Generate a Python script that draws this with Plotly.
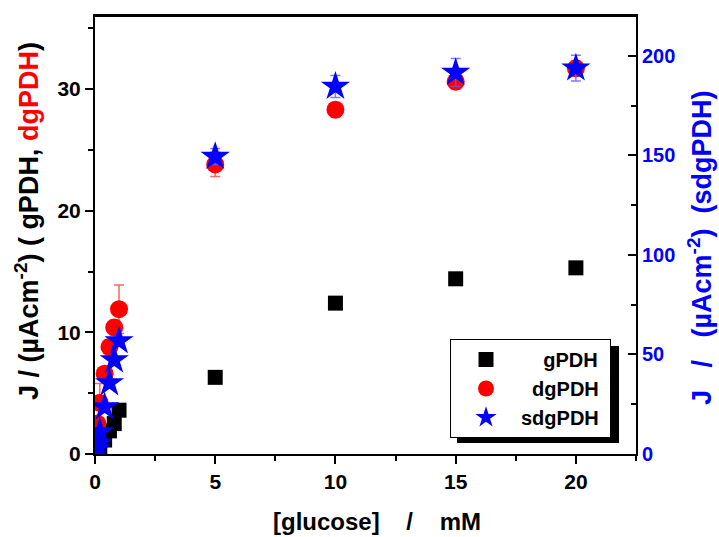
import plotly.graph_objects as go

# ---- data ----
x_g = [0.1, 0.2, 0.4, 0.6, 0.8, 1.0, 5, 10, 15, 20]
j_g = [0.25, 0.5, 1.15, 1.9, 2.5, 3.6, 6.3, 12.4, 14.4, 15.3]

x_dg = [0.1, 0.2, 0.4, 0.6, 0.8, 1.0, 5, 10, 15, 20]
j_dg = [2.5, 4.2, 6.6, 8.8, 10.4, 11.9, 23.8, 28.3, 30.6, 31.7]
e_dg = [0.4, 1.6, 0.5, 0.6, 0.6, 2.0, 1.0, 0.6, 0.6, 0.6]

x_sdg = [0.05, 0.1, 0.2, 0.4, 0.6, 0.8, 1.0, 5, 10, 15, 20]
j_sdg = [2.5, 5.0, 11.1, 23.6, 35.7, 47.2, 56.8, 149.4, 184.6, 191.6, 193.8]
e_sdg = [0.5, 0.5, 1.0, 1.0, 1.0, 1.0, 1.0, 4.0, 5.5, 7.0, 6.5]

x_ticks = [0, 5, 10, 15, 20]
y_ticks = [0, 10, 20, 30]
y2_ticks = [0, 50, 100, 150, 200]

FONT = "Liberation Sans, Arial, sans-serif"
NB = "\u00a0"

fig = go.Figure()
fig.add_trace(go.Scatter(
    x=x_g, y=j_g, mode="markers", name=NB * 4 + "gPDH" + NB,
    marker=dict(symbol="square", size=15, color="black"),
))
fig.add_trace(go.Scatter(
    x=x_dg, y=j_dg, mode="markers", name=NB * 2 + "dgPDH" + NB,
    marker=dict(symbol="circle", size=18, color="red"),
    error_y=dict(type="data", array=e_dg, color="rgba(255,60,60,0.8)", thickness=1.5, width=5),
))
fig.add_trace(go.Scatter(
    x=x_sdg, y=j_sdg, mode="markers", name="sdgPDH" + NB, yaxis="y2",
    marker=dict(symbol="star", size=22, color="blue"),
    error_y=dict(type="data", array=e_sdg, color="rgba(90,90,255,0.8)", thickness=1.5, width=5),
))

axis_common = dict(
    showline=True, linecolor="black", linewidth=2, showgrid=False, zeroline=False,
    ticks="outside", ticklen=8, tickwidth=2, tickcolor="black", automargin=False,
)

# plot area on screen: x 95..636, y 16..454 (page body margin removed below)
PL, PR, PT, PB = 95, 636, 16, 454
PW, PH = PR - PL, PB - PT
W, H = 719, 537


def px(sx):
    return (sx - PL) / PW


def py(sy):
    return (PB - sy) / PH


fig.update_layout(
    width=W, height=H,
    margin=dict(l=PL, r=W - PR, t=PT, b=H - PB),
    paper_bgcolor="white", plot_bgcolor="white",
    font=dict(family=FONT, size=18, color="black"),
    xaxis=dict(
        **axis_common, range=[0, 22.5], tickvals=x_ticks, mirror=True,
        minor=dict(ticks="outside", ticklen=5, tickwidth=2, tickcolor="black", dtick=2.5),
        tickfont=dict(family=FONT, size=21, color="black", weight="bold"),
    ),
    yaxis=dict(
        **axis_common, range=[0, 36], tickvals=y_ticks,
        minor=dict(ticks="outside", ticklen=5, tickwidth=2, tickcolor="black", dtick=5),
        tickfont=dict(family=FONT, size=21, color="black", weight="bold"),
    ),
    yaxis2=dict(
        showline=True, linecolor="black", linewidth=2, showgrid=False, zeroline=False,
        overlaying="y", side="right", range=[0, 220], tickvals=y2_ticks, automargin=False,
        ticks="inside", ticklen=8, tickwidth=2, tickcolor="black",
        minor=dict(ticks="inside", ticklen=5, tickwidth=2, tickcolor="black", dtick=25),
        tickfont=dict(family=FONT, size=20, color="blue", weight="bold"),
    ),
    legend=dict(
        x=px(450), y=py(339), xanchor="left", yanchor="top",
        bgcolor="white", bordercolor="black", borderwidth=1,
        font=dict(family=FONT, size=20, color="black", weight="bold"),
        itemwidth=60, tracegroupgap=0,
    ),
    annotations=[
        dict(xref="paper", yref="paper", x=px(377), y=py(521), xanchor="center", yanchor="middle",
             showarrow=False, text="[glucose]" + NB * 4 + "/" + NB * 4 + "mM",
             font=dict(family=FONT, size=24, color="black", weight="bold")),
        dict(xref="paper", yref="paper", x=px(27), y=py(221), xanchor="center", yanchor="middle",
             showarrow=False, textangle=-90,
             text="J / (µAcm<sup>-2</sup>) ( gPDH, <span style='color:red'>dgPDH</span>)",
             font=dict(family=FONT, size=27, color="black", weight="bold")),
        dict(xref="paper", yref="paper", x=px(700), y=py(248), xanchor="center", yanchor="middle",
             showarrow=False, textangle=-90,
             text="J" + NB * 3 + "/" + NB * 3 + "(µAcm<sup>-2</sup>)" + NB * 2 + "(sdgPDH)",
             font=dict(family=FONT, size=27, color="blue", weight="bold")),
    ],
    shapes=[
        dict(type="rect", xref="paper", yref="paper", layer="below",
             x0=px(457), x1=px(619), y0=py(443), y1=py(346),
             fillcolor="black", line=dict(width=0)),
        dict(type="line", xref="paper", yref="paper", layer="above",
             x0=0, x1=1, y0=1, y1=1, line=dict(color="black", width=2)),
    ],
)

fig.write_html(
    "out.html",
    config={"displayModeBar": False},
    post_script="document.body.style.margin='0';document.body.style.padding='0';"
                "document.documentElement.style.overflow='hidden';",
)
